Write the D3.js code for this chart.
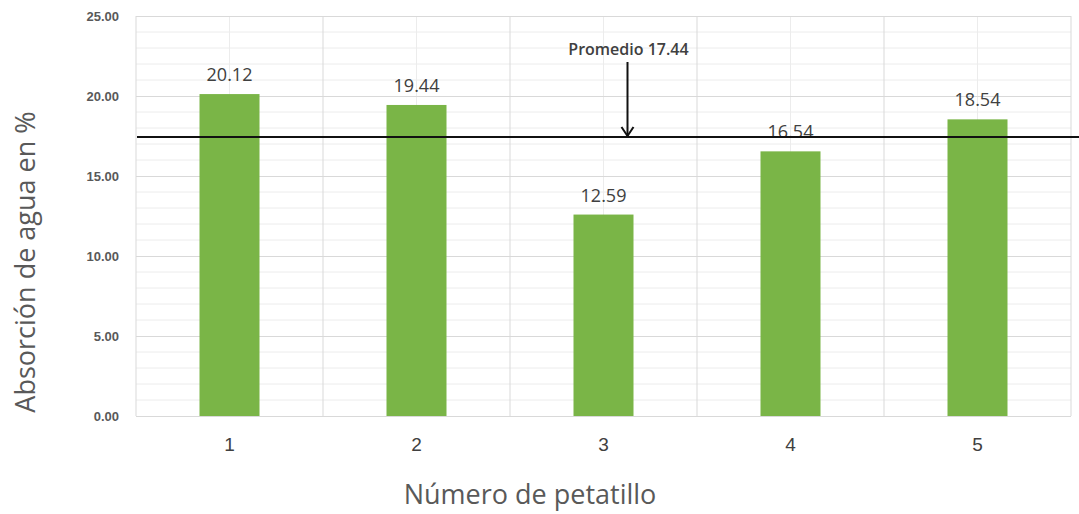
<!DOCTYPE html>
<html>
<head>
<meta charset="utf-8">
<script src="https://cdn.jsdelivr.net/npm/d3@7"></script>
<style>
  body { margin: 0; background: #fff; }
  svg { display: block; font-family: "Open Sans", "Noto Sans", sans-serif; }
</style>
</head>
<body>
<div id="chart"></div>
<script>
const categories = ["1", "2", "3", "4", "5"];
const values = [20.12, 19.44, 12.59, 16.54, 18.54];
const yTicks = [0, 5, 10, 15, 20, 25];
const average = 17.44;
const averageLabel = "Promedio 17.44";

const W = 1079, H = 514;
const margin = { top: 16, right: 8, bottom: 98, left: 136 };
const width = W - margin.left - margin.right,
  height = H - margin.top - margin.bottom;

const svg = d3.select("#chart").append("svg")
  .attr("width", W)
  .attr("height", H);

const g = svg.append("g")
  .attr("transform", `translate(${margin.left},${margin.top})`);

const x = d3.scaleBand().domain(categories).range([0, width]).paddingInner(0).paddingOuter(0);
const y = d3.scaleLinear().domain([0, 25]).range([height, 0]);

// minor horizontal grid (every 1 unit)
g.append("g")
  .selectAll("line")
  .data(d3.range(1, 25).filter(v => v % 5 !== 0))
  .enter().append("line")
  .attr("x1", 0).attr("x2", width)
  .attr("y1", d => y(d)).attr("y2", d => y(d))
  .attr("stroke", "#ececec").attr("stroke-width", 1);

// minor vertical grid at category centers
g.append("g")
  .selectAll("line")
  .data(categories)
  .enter().append("line")
  .attr("x1", d => x(d) + x.bandwidth() / 2).attr("x2", d => x(d) + x.bandwidth() / 2)
  .attr("y1", 0).attr("y2", height)
  .attr("stroke", "#ececec").attr("stroke-width", 1);

// major horizontal grid
g.append("g")
  .attr("class", "grid")
  .call(d3.axisLeft(y).tickValues(yTicks).tickSize(-width).tickFormat(""))
  .call(s => s.select(".domain").remove())
  .selectAll("line")
  .attr("stroke", "#d9d9d9");

// major vertical grid at category boundaries
g.append("g")
  .selectAll("line")
  .data(categories.concat(["end"]))
  .enter().append("line")
  .attr("x1", (d, i) => i * x.step()).attr("x2", (d, i) => i * x.step())
  .attr("y1", 0).attr("y2", height)
  .attr("stroke", "#d9d9d9").attr("stroke-width", 1);

// y axis labels
const yAxis = g.append("g")
  .call(d3.axisLeft(y).tickValues(yTicks).tickSize(0).tickPadding(17).tickFormat(d3.format(".2f")));
yAxis.select(".domain").remove();
yAxis.selectAll("text")
  .style("font-size", "13px")
  .style("font-weight", "600")
  .style("fill", "#595959");

// x axis labels
const xAxis = g.append("g")
  .attr("transform", `translate(0,${height})`)
  .call(d3.axisBottom(x).tickSize(0).tickPadding(22));
xAxis.select(".domain").remove();
xAxis.selectAll("text")
  .style("font-size", "19px")
  .style("fill", "#404040");

// bars
const barW = 60;
g.selectAll("rect.bar")
  .data(values)
  .enter().append("rect")
  .attr("class", "bar")
  .attr("x", (d, i) => x(categories[i]) + x.bandwidth() / 2 - barW / 2)
  .attr("width", barW)
  .attr("y", d => y(d))
  .attr("height", d => height - y(d))
  .attr("fill", "#7ab547");

// value labels
g.selectAll("text.val")
  .data(values)
  .enter().append("text")
  .attr("class", "val")
  .attr("x", (d, i) => x(categories[i]) + x.bandwidth() / 2)
  .attr("y", d => y(d) - 13)
  .attr("text-anchor", "middle")
  .style("font-size", "18px")
  .style("fill", "#404040")
  .text(d => d.toFixed(2));

// average line
g.append("line")
  .attr("x1", 1).attr("x2", W - margin.left)
  .attr("y1", y(average)).attr("y2", y(average))
  .attr("stroke", "#111").attr("stroke-width", 2);

// arrow + annotation
const ax = x("3") + x.bandwidth() / 2 + 24;
g.append("line")
  .attr("x1", ax).attr("x2", ax)
  .attr("y1", 46).attr("y2", y(average) - 1)
  .attr("stroke", "#111").attr("stroke-width", 2);
g.append("path")
  .attr("d", `M${ax - 6},${y(average) - 10} L${ax},${y(average) - 1} L${ax + 6},${y(average) - 10}`)
  .attr("fill", "none").attr("stroke", "#111").attr("stroke-width", 2);
g.append("text")
  .attr("x", ax + 1).attr("y", 39)
  .attr("text-anchor", "middle")
  .style("font-size", "16px")
  .style("font-weight", "600")
  .style("fill", "#404040")
  .text(averageLabel);

// axis titles
svg.append("text")
  .attr("x", 530)
  .attr("y", 504)
  .attr("text-anchor", "middle")
  .style("font-size", "27px")
  .style("fill", "#595959")
  .text("Número de petatillo");

svg.append("text")
  .attr("transform", `translate(35,262) rotate(-90)`)
  .attr("text-anchor", "middle")
  .style("font-size", "27px")
  .style("fill", "#595959")
  .text("Absorción de agua en %");
</script>
</body>
</html>
